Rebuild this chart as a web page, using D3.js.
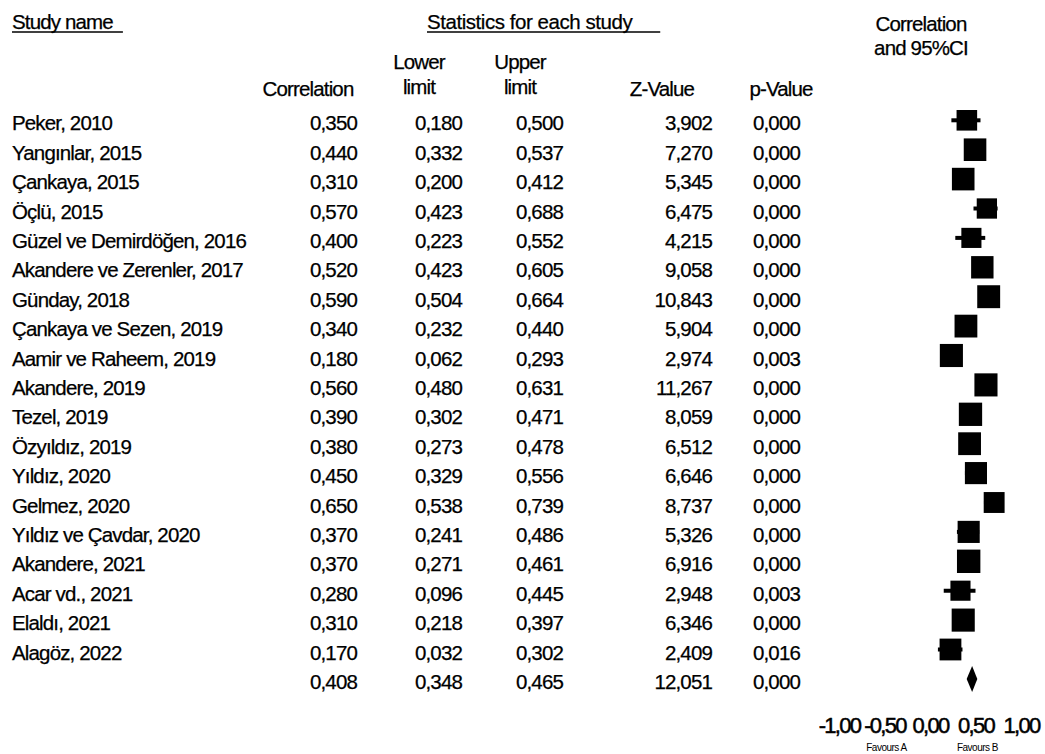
<!DOCTYPE html>
<html>
<head>
<meta charset="utf-8">
<script src="https://cdn.jsdelivr.net/npm/d3@7"></script>
<style>
  body { margin: 0; background: #fff; }
  svg text { font-family: "Liberation Sans", Arial, sans-serif; fill: #000; }
</style>
</head>
<body>
<div id="forest"></div>
<script>
// study level data
const studies = ['Peker, 2010', 'Yangınlar, 2015', 'Çankaya, 2015', 'Öçlü, 2015',
  'Güzel ve Demirdöğen, 2016', 'Akandere ve Zerenler, 2017', 'Günday, 2018',
  'Çankaya ve Sezen, 2019', 'Aamir ve Raheem, 2019', 'Akandere, 2019', 'Tezel, 2019',
  'Özyıldız, 2019', 'Yıldız, 2020', 'Gelmez, 2020', 'Yıldız ve Çavdar, 2020',
  'Akandere, 2021', 'Acar vd., 2021', 'Elaldı, 2021', 'Alagöz, 2022'];
const correlation = [0.350, 0.440, 0.310, 0.570, 0.400, 0.520, 0.590, 0.340, 0.180, 0.560,
  0.390, 0.380, 0.450, 0.650, 0.370, 0.370, 0.280, 0.310, 0.170];
const lowerLimit = [0.180, 0.332, 0.200, 0.423, 0.223, 0.423, 0.504, 0.232, 0.062, 0.480,
  0.302, 0.273, 0.329, 0.538, 0.241, 0.271, 0.096, 0.218, 0.032];
const upperLimit = [0.500, 0.537, 0.412, 0.688, 0.552, 0.605, 0.664, 0.440, 0.293, 0.631,
  0.471, 0.478, 0.556, 0.739, 0.486, 0.461, 0.445, 0.397, 0.302];
const zValue = [3.902, 7.270, 5.345, 6.475, 4.215, 9.058, 10.843, 5.904, 2.974, 11.267,
  8.059, 6.512, 6.646, 8.737, 5.326, 6.916, 2.948, 6.346, 2.409];
const pValue = [0.000, 0.000, 0.000, 0.000, 0.000, 0.000, 0.000, 0.000, 0.003, 0.000,
  0.000, 0.000, 0.000, 0.000, 0.000, 0.000, 0.003, 0.000, 0.016];
// relative weight (%), estimated from the size of the squares
const relWeight = [4.55, 5.48, 5.48, 4.42, 4.34, 5.39, 5.64, 5.58, 5.73, 5.73,
  5.83, 5.58, 5.25, 4.69, 5.25, 5.88, 4.34, 5.73, 5.10];
// pooled row: correlation, lower, upper, Z, p
const summaryStats = [0.408, 0.348, 0.465, 12.051, 0.000];
const xTicks = [-1, -0.5, 0, 0.5, 1];

const width = 1045, height = 754;
const rowTop = 120.3, rowStep = 29.4;

const locale = d3.formatLocale({decimal: ',', thousands: '.', grouping: [3], currency: ['', ''], minus: '-'});
const fmt = locale.format('.3f');
const fmtTick = locale.format('.2f');

const svg = d3.select('#forest').append('svg')
  .attr('width', width).attr('height', height);

const x = d3.scaleLinear().domain([-1, 1]).range([844, 1026]);
const y = d3.scaleLinear().domain([0, studies.length]).range([rowTop, rowTop + rowStep * studies.length]);
const side = d3.scaleSqrt().domain([0, d3.max(relWeight)]).range([0, 23.4]);

const textStyle = sel => sel.style('font-size', '20.5px').style('letter-spacing', '-0.85px')
  .attr('stroke', '#000').attr('stroke-width', 0.25);

// header
const hdr = svg.append('g').attr('class', 'header').call(textStyle);
function underlined(txt, tx, ty, extra, ls) {
  const t = hdr.append('text').attr('x', tx).attr('y', ty).text(txt);
  if (ls) t.style('letter-spacing', ls);
  const w = t.node().getComputedTextLength();
  hdr.append('line').attr('x1', tx).attr('x2', tx + w + extra)
    .attr('y1', ty + 3).attr('y2', ty + 3)
    .attr('stroke', '#000').attr('stroke-width', 1.4);
}
underlined('Study name', 12, 29, 10);
underlined('Statistics for each study', 427, 29, 28, '-0.45px');

const cols = [
  {x: 308, lines: ['Correlation']},
  {x: 419, lines: ['Lower', 'limit']},
  {x: 520, lines: ['Upper', 'limit']},
  {x: 662, lines: ['Z-Value']},
  {x: 781, lines: ['p-Value']}
];
cols.forEach(c => {
  c.lines.forEach((ln, i) => {
    const baseY = c.lines.length === 2 ? 69 + i * 25 : 96;
    hdr.append('text').attr('x', c.x).attr('y', baseY).attr('text-anchor', 'middle').text(ln);
  });
});
hdr.append('text').attr('x', 921).attr('y', 31).attr('text-anchor', 'middle').text('Correlation');
hdr.append('text').attr('x', 921).attr('y', 55).attr('text-anchor', 'middle').text('and 95%CI');

// table rows
const colRight = [357, 462, 563, 712, 800];
const body = svg.append('g').call(textStyle);
const rows = body.selectAll('g.row').data(studies).join('g')
  .attr('class', 'row')
  .attr('transform', (d, i) => `translate(0,${y(i) + 10})`);
rows.append('text').attr('x', 12).text(d => d);
const tableVals = [correlation, lowerLimit, upperLimit, zValue, pValue];
tableVals.forEach((arr, k) => {
  rows.append('text').attr('x', colRight[k]).attr('text-anchor', 'end')
    .text((d, i) => fmt(arr[i]));
});
const sumRow = body.append('g').attr('transform', `translate(0,${y(studies.length) + 10})`);
summaryStats.forEach((v, k) => {
  sumRow.append('text').attr('x', colRight[k]).attr('text-anchor', 'end').text(fmt(v));
});

// forest plot
const plot = svg.append('g');
plot.selectAll('line.ci').data(studies).join('line')
  .attr('class', 'ci')
  .attr('x1', (d, i) => x(lowerLimit[i])).attr('x2', (d, i) => x(upperLimit[i]))
  .attr('y1', (d, i) => y(i)).attr('y2', (d, i) => y(i))
  .attr('stroke', '#000').attr('stroke-width', 4);
plot.selectAll('rect.box').data(studies).join('rect')
  .attr('class', 'box')
  .attr('x', (d, i) => x(correlation[i]) - side(relWeight[i]) / 2)
  .attr('y', (d, i) => y(i) - side(relWeight[i]) / 2)
  .attr('width', (d, i) => side(relWeight[i]))
  .attr('height', (d, i) => side(relWeight[i]))
  .attr('fill', '#000');
const sy = y(studies.length);
plot.append('path')
  .attr('d', `M${x(summaryStats[1])},${sy} L${x(summaryStats[0])},${sy - 13} L${x(summaryStats[2])},${sy} L${x(summaryStats[0])},${sy + 13} Z`)
  .attr('fill', '#000');

// axis
const axis = svg.append('g').attr('transform', 'translate(0,707)')
  .call(d3.axisBottom(x).tickValues(xTicks).tickFormat(fmtTick).tickSize(0).tickPadding(10));
axis.select('.domain').remove();
axis.selectAll('text')
  .attr('dx', -5)
  .style('font-family', '"Liberation Sans", Arial, sans-serif')
  .style('font-size', '22px')
  .style('letter-spacing', '-1.7px')
  .attr('fill', '#000').attr('stroke', '#000').attr('stroke-width', 0.5);

svg.append('text').attr('x', x(-0.5) - 3).attr('y', 751).attr('text-anchor', 'middle')
  .style('font-size', '10px').style('letter-spacing', '-0.5px').text('Favours A');
svg.append('text').attr('x', x(0.5) - 3).attr('y', 751).attr('text-anchor', 'middle')
  .style('font-size', '10px').style('letter-spacing', '-0.5px').text('Favours B');
</script>
</body>
</html>
